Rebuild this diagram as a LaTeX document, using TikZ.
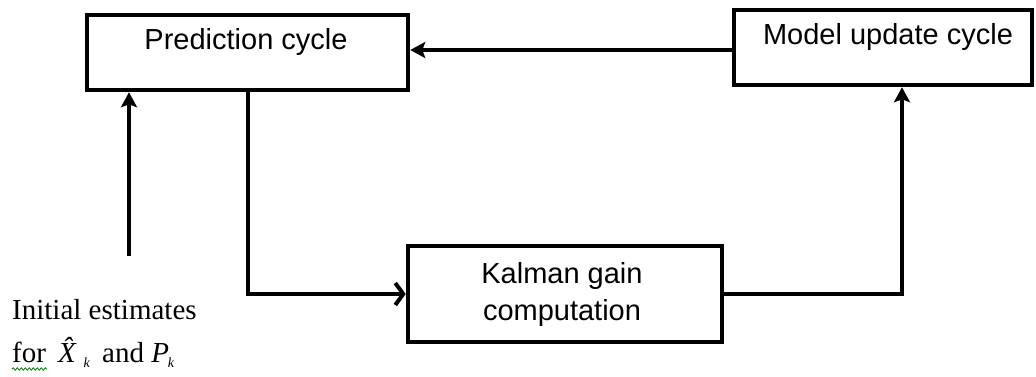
\documentclass[tikz,border=0pt]{standalone}
\usepackage{fontspec}
\setmainfont{Liberation Serif}
\setsansfont{Liberation Sans}
\usetikzlibrary{arrows.meta,decorations.pathmorphing}
\newcommand{\subk}{\raisebox{-0.4ex}{\fontsize{14}{14}\selectfont\textit{k}}}
\begin{document}
\begin{tikzpicture}[x=1pt,y=-1pt,
  blk/.style={draw=black,line width=4.5pt,minimum width=#1,inner sep=0pt},
  lbl/.style={font=\sffamily\fontsize{29}{37}\selectfont,align=center,inner sep=0pt},
  conn/.style={line width=4pt},
  head/.style={-{Stealth[length=15pt,width=16pt,inset=3pt]}},
  openhead/.style={-{Straight Barb[length=8pt,width=22pt,line width=4pt]}},
  note/.style={font=\fontsize{29}{37}\selectfont,inner sep=0pt,anchor=base west}]
\useasboundingbox (0,0) rectangle (1036,376);
% boxes
\node[blk=321pt,minimum height=75pt] (pred) at (247.5,52.5) {};
\node[blk=298pt,minimum height=75pt] (model) at (883,47.5) {};
\node[blk=314pt,minimum height=96pt] (kal) at (565,294) {};
% box texts
\node[lbl] (predt) at (246,42) {Prediction cycle};
\node[lbl] (modelt) at (888,37) {Model update cycle};
\node[lbl] (kalt) at (562,294) {Kalman gain\\computation};
% notes
\node[note] (n1) at (12,319) {Initial estimates};
\node[note] (n2) at (12,362) {for \,\textit{\^X}\kern-3pt\subk\ \,and \textit{P}\kern-1pt\subk};
\coordinate (ini) at (129,256);
\coordinate (y50) at (0,50);
\coordinate (sqa) at (12,369);
\coordinate (sqb) at (47,369);
% squiggle
\draw[green!50!black,line width=0.8pt,decorate,decoration={snake,amplitude=1.2pt,segment length=4pt}] (sqa) -- (sqb);
% connectors
\draw[conn,head] (ini) -- (ini |- pred.south);
\draw[conn,openhead] (pred.south) |- (kal.west);
\draw[conn,head] (kal.east) -| ([xshift=19pt]model.south);
\draw[conn,head] (model.west |- y50) -- (pred.east |- y50);
\end{tikzpicture}
\end{document}
